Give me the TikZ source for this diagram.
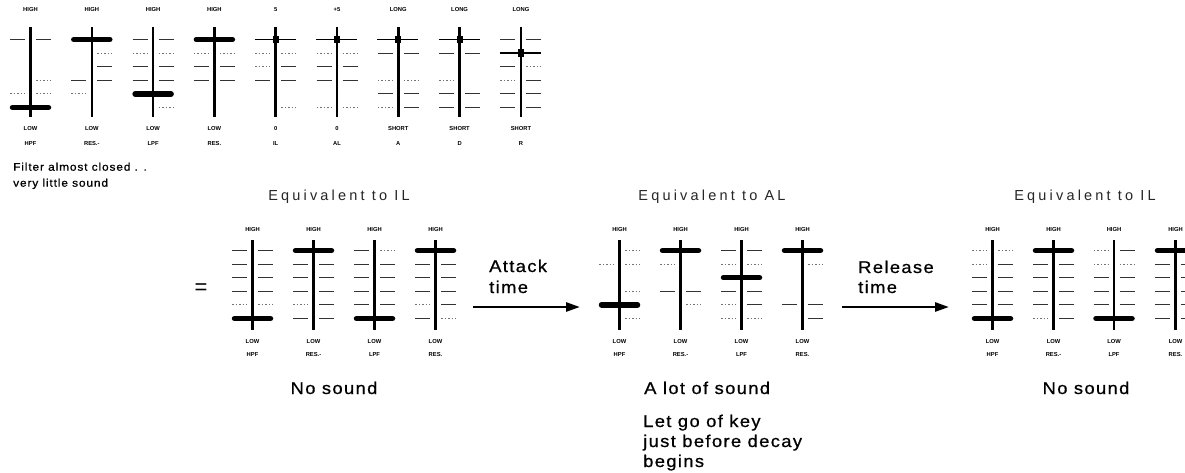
\documentclass[tikz,border=0pt]{standalone}
\usepackage{fontspec}
\setmainfont{Liberation Sans}
\newfontfamily\bigf[LetterSpace=8,FakeStretch=1.08,FakeBold=0.7]{Liberation Sans}
\newfontfamily\eqf[LetterSpace=22]{Liberation Sans}
\usetikzlibrary{arrows.meta}
\newcommand\setrow[7]{\def\rtop{#1}\def\rbot{#2}\def\rone{#3}\def\rdy{#4}\def\rhi{#5}\def\rlo{#6}\def\rnm{#7}}
% #1 id, #2 x, #3 knob level, #4 knob type b/s, #5 left ticks, #6 right ticks, #7 top, #8 bottom, #9 name
\newcommand\sld[9]{%
  \coordinate (#1-top) at (#2,\rtop);
  \coordinate (#1-bot) at (#2,\rbot);
  \foreach \cd [count=\ii] in {#5}{%
    \pgfmathsetmacro\yy{\rone+(\ii-1)*\rdy}%
    \ifnum\cd=1 \draw[tickline] ({#2-20.5},\yy) -- ({#2-5.5},\yy);\fi
    \ifnum\cd=2 \draw[faintline] ({#2-20.5},\yy) -- ({#2-5.5},\yy);\fi
  }
  \foreach \cd [count=\ii] in {#6}{%
    \pgfmathsetmacro\yy{\rone+(\ii-1)*\rdy}%
    \ifnum\cd=1 \draw[tickline] ({#2+5.5},\yy) -- ({#2+20.5},\yy);\fi
    \ifnum\cd=2 \draw[faintline] ({#2+5.5},\yy) -- ({#2+20.5},\yy);\fi
  }
  \draw[shaft] (#1-top) -- (#1-bot);
  \pgfmathsetmacro\ky{\rone+(#3-1)*\rdy}
  \if#4b\relax
    \draw[knobline] ({#2-18},\ky) -- ({#2+18},\ky);
  \else
    \draw[smallknobline] ({#2-21},\ky) -- ({#2+20},\ky);
    \fill ({#2-3},{\ky-4}) rectangle ({#2+3},{\ky+3.5});
  \fi
  \node[sm] (#1-hi) at (#2,\rhi) {#7};
  \node[sm] (#1-lo) at (#2,\rlo) {#8};
  \node[sm] (#1-nm) at (#2,\rnm) {#9};
}
\tikzset{
  shaft/.style={line width=2.6pt,black},
  tickline/.style={line width=1.1pt,black!80},
  faintline/.style={line width=1pt,black!55,dash pattern=on 1.5pt off 2pt},
  knobline/.style={line width=5.5pt,black,line cap=round},
  smallknobline/.style={line width=1.4pt,black},
  sm/.style={font=\fontsize{5.8}{6}\selectfont\bfseries,inner sep=0pt},
  big/.style={font=\bigf\fontsize{17}{20}\selectfont,inner sep=0pt,anchor=base west},
  mid/.style={font=\bigf\fontsize{11}{13}\selectfont,inner sep=0pt,anchor=base west},
  eqv/.style={font=\eqf\fontsize{14.5}{16}\selectfont,inner sep=0pt,anchor=base,text=black!85},
  arr/.style={line width=2.6pt,-{Triangle[length=14pt,width=9pt]}}
}
\begin{document}
\begin{tikzpicture}[x=1pt,y=-1pt]
\clip (0,0) rectangle (1185,472);
\fill[white] (0,0) rectangle (1185,472);
% top row
\setrow{27}{117}{39.5}{13.6}{10}{128.5}{143}
\sld{t1}{30.5}{6}{b}{1,0,0,0,2,0}{1,0,0,2,2,0}{HIGH}{LOW}{HPF}
\sld{t2}{91.8}{1}{b}{0,0,0,1,2,0}{0,2,1,1,0,0}{HIGH}{LOW}{RES.-}
\sld{t3}{153.1}{5}{b}{1,2,1,1,0,0}{1,2,1,1,0,2}{HIGH}{LOW}{LPF}
\sld{t4}{214.4}{1}{b}{0,2,1,1,0,0}{0,2,1,1,0,0}{HIGH}{LOW}{RES.}
\sld{t5}{275.7}{1}{s}{0,2,2,1,0,0}{0,2,1,1,0,2}{5}{0}{IL}
\sld{t6}{337}{1}{s}{0,2,1,1,0,2}{0,2,1,1,0,2}{+5}{0}{AL}
\sld{t7}{398.3}{1}{s}{0,1,0,2,1,2}{0,1,0,2,1,1}{LONG}{SHORT}{A}
\sld{t8}{459.6}{1}{s}{0,1,0,2,1,1}{0,1,0,0,1,1}{LONG}{SHORT}{D}
\sld{t9}{520.9}{2}{s}{1,0,1,2,1,1}{1,0,2,1,1,1}{LONG}{SHORT}{R}
\node[mid] (f1) at (13,170.7) {Filter almost closed . .};
\node[mid] (f2) at (13,186.7) {very little sound};
% lower groups
\setrow{240}{330}{250.5}{13.6}{229}{341}{354}
\sld{g1a}{252.5}{6}{b}{1,1,1,1,2,0}{1,1,1,1,2,0}{HIGH}{LOW}{HPF}
\sld{g1b}{313.5}{1}{b}{0,1,1,1,2,1}{0,1,1,1,1,1}{HIGH}{LOW}{RES.-}
\sld{g1c}{374.5}{6}{b}{1,1,1,1,1,0}{2,1,1,1,1,0}{HIGH}{LOW}{LPF}
\sld{g1d}{435.5}{1}{b}{0,1,1,1,2,1}{0,1,1,1,1,2}{HIGH}{LOW}{RES.}
\sld{g2a}{619.5}{5}{b}{0,2,0,0,0,0}{2,2,0,2,0,2}{HIGH}{LOW}{HPF}
\sld{g2b}{680.5}{1}{b}{0,2,0,1,0,0}{0,0,0,1,2,0}{HIGH}{LOW}{RES.-}
\sld{g2c}{741.5}{3}{b}{1,2,0,1,2,2}{1,2,0,1,1,2}{HIGH}{LOW}{LPF}
\sld{g2d}{802.5}{1}{b}{0,0,0,0,1,0}{0,2,0,0,1,1}{HIGH}{LOW}{RES.}
\sld{g3a}{992.5}{6}{b}{2,2,1,1,1,0}{2,1,1,1,1,0}{HIGH}{LOW}{HPF}
\sld{g3b}{1053.5}{1}{b}{0,1,1,1,1,2}{0,1,1,1,1,1}{HIGH}{LOW}{RES.-}
\sld{g3c}{1114}{6}{b}{2,2,1,1,1,0}{1,2,1,1,1,0}{HIGH}{LOW}{LPF}
\sld{g3d}{1175.5}{1}{b}{0,1,1,1,1,1}{0,1,1,1,1,1}{HIGH}{LOW}{RES.}
% titles
\node[eqv] (e1) at (339,200) {Equivalent to IL};
\node[eqv] (e2) at (712,200) {Equivalent to AL};
\node[eqv] (e3) at (1085,200) {Equivalent to IL};
\node[font=\fontsize{22}{22}\selectfont,inner sep=0pt] (eq) at (201,289) {=};
% arrows
\node[big] (at1) at (489,272) {Attack};
\node[big] (at2) at (489,293) {time};
\coordinate (a1s) at (473,307);
\coordinate (a1e) at (580,307);
\draw[arr] (a1s) -- (a1e);
\node[big] (rt1) at (858,273) {Release};
\node[big] (rt2) at (858,293) {time};
\coordinate (a2s) at (842,307);
\coordinate (a2e) at (949,307);
\draw[arr] (a2s) -- (a2e);
% bottom texts
\node[big,anchor=base] (ns1) at (334,394) {No sound};
\node[big] (ls) at (644,394) {A lot of sound};
\node[big] (lg1) at (643,427) {Let go of key};
\node[big] (lg2) at (643,447) {just before decay};
\node[big] (lg3) at (643,467) {begins};
\node[big,anchor=base] (ns2) at (1086,394) {No sound};
\end{tikzpicture}
\end{document}
